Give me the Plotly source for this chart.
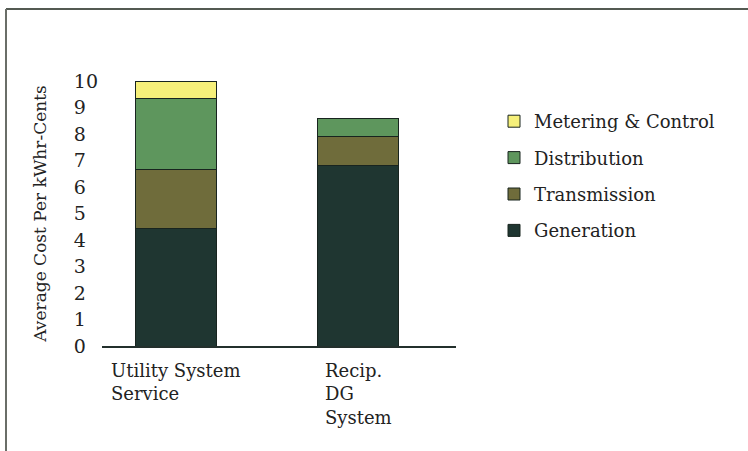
import plotly.graph_objects as go

# ---- data ----
categories = ["Utility System Service", "Recip. DG System"]
category_labels = ["Utility System<br>Service", "Recip.<br>DG<br>System"]
generation = [4.45, 6.8]
transmission = [2.2, 1.1]
distribution = [2.7, 0.7]
metering_control = [0.65, 0.0]
series_names = ["Generation", "Transmission", "Distribution", "Metering & Control"]
y_ticks = [0, 1, 2, 3, 4, 5, 6, 7, 8, 9, 10]
y_title = "Average Cost Per kWhr-Cents"

# ---- style ----
W, H = 748, 451
ML, MR, MT, MB = 102, 292, 81, 105
FONT = "DejaVu Serif"
colors = ["#1f3631", "#6f6c3b", "#5e965d", "#f6f07a"]
edge = "#18241f"

def px_to_paper_x(px):
    return (px - ML) / (W - ML - MR)

def px_to_paper_y(py):
    return (H - MB - py) / (H - MT - MB)

fig = go.Figure()
n = len(series_names)
for i, (name, vals, col) in enumerate(zip(series_names,
                           [generation, transmission, distribution, metering_control],
                           colors)):
    fig.add_trace(go.Bar(
        x=categories, y=vals, name=name, legendgroup=name,
        legendrank=n - i,
        marker=dict(color=col, line=dict(color=edge, width=1)),
        width=0.445,
    ))

# x category labels: left-aligned blocks centred on each category
for cat, lab in zip(categories, category_labels):
    fig.add_annotation(
        x=cat, xref="x", y=px_to_paper_y(358), yref="paper",
        yanchor="top", xanchor="center", align="left",
        text=lab, showarrow=False,
        font=dict(family=FONT, size=18, color="#222"),
    )

# tick labels padded with figure spaces so they appear left-aligned
tick_text = [str(v) if len(str(v)) > 1 else str(v) + "\u2007" for v in y_ticks]

fig.update_layout(
    width=W, height=H,
    margin=dict(l=ML, r=MR, t=MT, b=MB),
    paper_bgcolor="white", plot_bgcolor="white",
    barmode="stack",
    showlegend=True,
    font=dict(family=FONT, size=17, color="#222"),
    legend=dict(
        x=px_to_paper_x(494), y=px_to_paper_y(103),
        xanchor="left", yanchor="top",
        traceorder="grouped",
        tracegroupgap=10,
        font=dict(family=FONT, size=18, color="#222"),
        bgcolor="rgba(0,0,0,0)",
    ),
    xaxis=dict(
        range=[-0.407, 1.538],
        showticklabels=False, ticks="",
        showline=True, linecolor="#23302c", linewidth=2,
        showgrid=False, zeroline=False,
    ),
    yaxis=dict(
        range=[0, 10],
        tickvals=y_ticks, ticktext=tick_text,
        ticks="", ticklabelstandoff=3,
        tickfont=dict(family=FONT, size=19, color="#222"),
        showline=False, showgrid=False, zeroline=False,
        title=dict(text=y_title, font=dict(family=FONT, size=17, color="#222"),
                   standoff=22),
    ),
    shapes=[
        dict(type="line", xref="paper", yref="paper",
             x0=px_to_paper_x(6), x1=px_to_paper_x(W + 2),
             y0=px_to_paper_y(9), y1=px_to_paper_y(9),
             line=dict(color="#545a52", width=2)),
        dict(type="line", xref="paper", yref="paper",
             x0=px_to_paper_x(6), x1=px_to_paper_x(6),
             y0=px_to_paper_y(9), y1=px_to_paper_y(H + 2),
             line=dict(color="#6a6e68", width=2)),
    ],
)

fig.write_html("out.html", config={"displayModeBar": False},
               post_script="document.body.style.margin='0px';")
